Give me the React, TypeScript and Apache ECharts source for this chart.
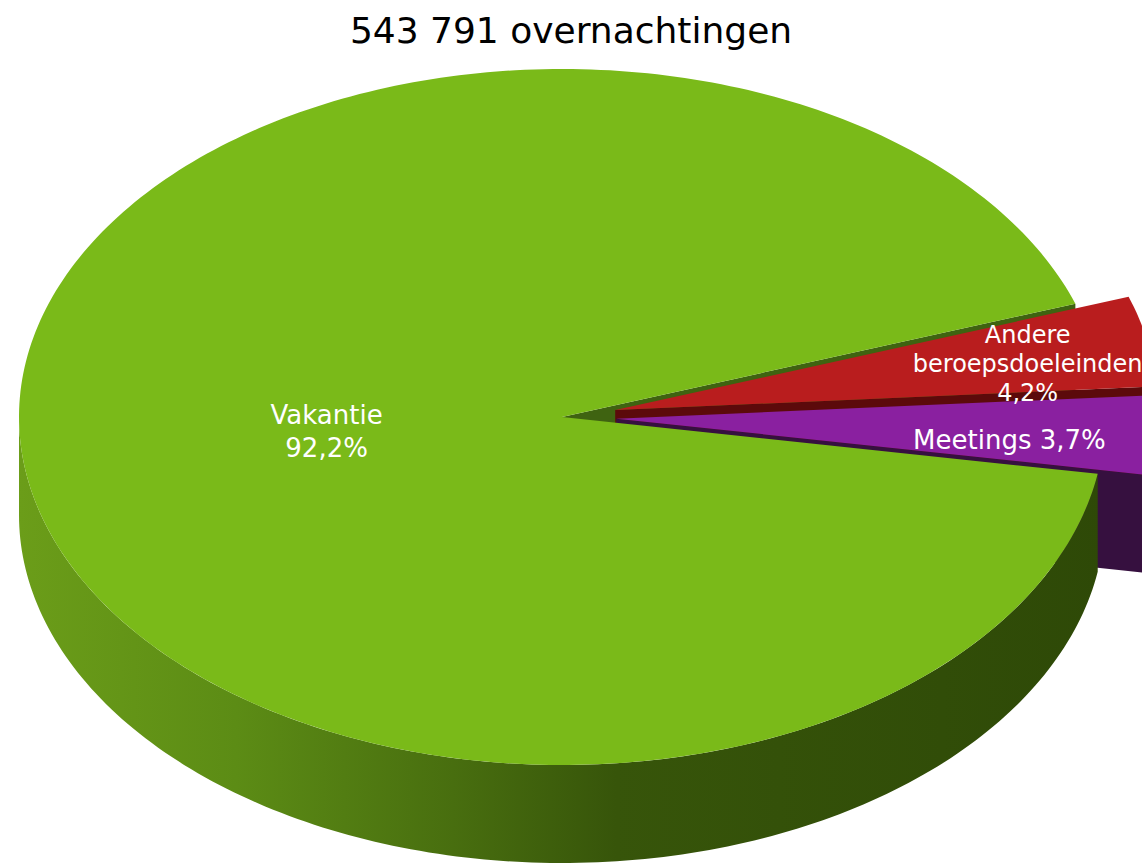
import React, { useEffect, useRef } from "react";
import * as echarts from "echarts";

const TITLE = "543 791 overnachtingen";
const categories = ["Vakantie", "Andere beroepsdoeleinden", "Meetings"];
const values = [92.2, 4.2, 3.7];
const labelTexts = ["Vakantie\n92,2%", "Andere\nberoepsdoeleinden\n4,2%", "Meetings 3,7%"];
const topColors = ["#7aba19", "#b91d1e", "#8a20a0"];
const faceColors = ["#3f6311", "#5c0a0b", "#36103f"];
const sideColors = ["#3a590b", "#5c0a0b", "#36103f"];
const explode = [0, 0.1, 0.1];
const labelRadius = [0.435, 0.775, 0.725];
const labelShiftY = [2, 7, 9];
const labelFontSize = [26, 24, 26];
const labelLineHeight = [33, 29, 30];

// geometry (pixels)
const CX = 562;
const CY = 417;
const RX = 543;
const RY = 348;
const DEPTH = 98;
const START_ANGLE = 350.6; // math degrees, slices run clockwise

const DEG = Math.PI / 180;
const total = values.reduce((a, b) => a + b, 0);

function pt(c: number[], a: number, dy = 0): number[] {
  return [c[0] + RX * Math.cos(a * DEG), c[1] - RY * Math.sin(a * DEG) + dy];
}

function arc(c: number[], a0: number, a1: number, dy = 0): number[][] {
  const pts: number[][] = [];
  const n = Math.max(2, Math.ceil(Math.abs(a1 - a0)));
  for (let k = 0; k <= n; k++) {
    pts.push(pt(c, a0 + ((a1 - a0) * k) / n, dy));
  }
  return pts;
}

const sideGradient = new echarts.graphic.LinearGradient(
  CX - RX,
  0,
  CX + RX,
  0,
  [
    { offset: 0, color: "#6b9d19" },
    { offset: 0.2, color: "#5c8c15" },
    { offset: 0.4, color: "#486e0f" },
    { offset: 0.55, color: "#37550a" },
    { offset: 1, color: "#2e4907" },
  ],
  true
);

function renderItem(params: any, api: any) {
  const i = params.dataIndex;
  let before = 0;
  for (let k = 0; k < i; k++) before += values[k];
  const hi = START_ANGLE - (before / total) * 360;
  const lo = hi - (values[i] / total) * 360;
  const mid = (lo + hi) / 2;
  const e = explode[i];
  const c = [CX + e * RX * Math.cos(mid * DEG), CY - e * RY * Math.sin(mid * DEG)];
  const children: any[] = [];

  // radial faces
  if (Math.cos(lo * DEG) > 0 && values[i] / total < 0.999) {
    const p = pt(c, lo);
    children.push({
      type: "polygon",
      z2: 1,
      shape: { points: [c, p, [p[0], p[1] + DEPTH], [c[0], c[1] + DEPTH]] },
      style: { fill: faceColors[i] },
    });
  }
  if (Math.cos(hi * DEG) < 0 && values[i] / total < 0.999) {
    const p = pt(c, hi);
    children.push({
      type: "polygon",
      z2: 1,
      shape: { points: [c, p, [p[0], p[1] + DEPTH], [c[0], c[1] + DEPTH]] },
      style: { fill: faceColors[i] },
    });
  }

  // outer visible side (front half: 180..360)
  for (let k = -1; k <= 1; k++) {
    const s = Math.max(lo, 180 + 360 * k);
    const t = Math.min(hi, 360 + 360 * k);
    if (t > s) {
      const top = arc(c, s, t);
      const bottom = arc(c, t, s, DEPTH);
      children.push({
        type: "polygon",
        z2: 2,
        shape: { points: top.concat(bottom) },
        style: { fill: i === 0 ? sideGradient : sideColors[i] },
      });
    }
  }

  // top face
  children.push({
    type: "polygon",
    z2: 3,
    shape: { points: [c].concat(arc(c, lo, hi)) },
    style: { fill: topColors[i] },
  });

  // label
  const lr = labelRadius[i];
  children.push({
    type: "text",
    z2: 10,
    x: c[0] + lr * RX * Math.cos(mid * DEG),
    y: c[1] - lr * RY * Math.sin(mid * DEG) + labelShiftY[i],
    style: {
      text: labelTexts[i],
      fill: "#ffffff",
      fontFamily: "DejaVu Sans",
      fontSize: labelFontSize[i],
      lineHeight: labelLineHeight[i],
      align: "center",
      verticalAlign: "middle",
    },
  });

  return { type: "group", children };
}

export default function App() {
  const ref = useRef<HTMLDivElement>(null);
  useEffect(() => {
    document.body.style.margin = "0";
    const chart = echarts.init(ref.current as HTMLDivElement, undefined, { renderer: "svg" });
    chart.setOption({
      animation: false,
      backgroundColor: "#ffffff",
      title: {
        text: TITLE,
        left: "center",
        top: 7,
        textStyle: {
          fontFamily: "DejaVu Sans",
          fontSize: 36,
          fontWeight: "normal",
          color: "#000000",
        },
      },
      series: [
        {
          type: "custom",
          coordinateSystem: "none",
          silent: true,
          renderItem,
          data: values.map((v, i) => ({ name: categories[i], value: [v, i] })),
        },
      ],
    });
    return () => chart.dispose();
  }, []);
  return (
    <div
      ref={ref}
      style={{ position: "absolute", left: 0, top: 0, width: 1142, height: 864, overflow: "hidden" }}
    />
  );
}
